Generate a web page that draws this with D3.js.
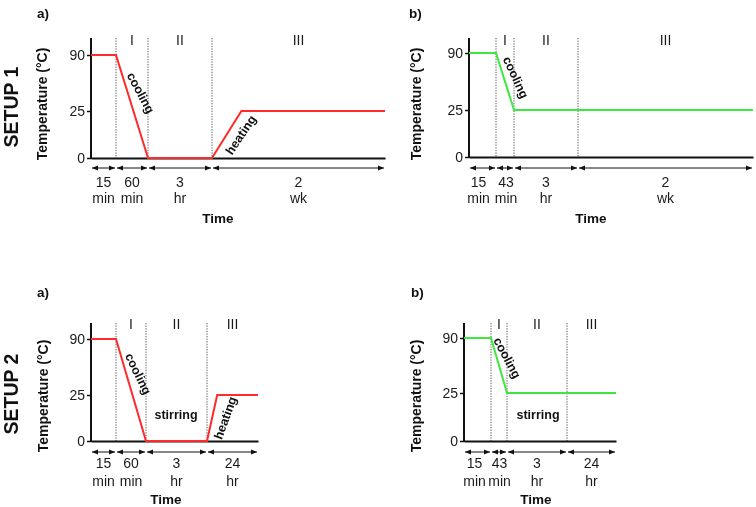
<!DOCTYPE html>
<html>
<head>
<meta charset="utf-8">
<script src="https://cdn.jsdelivr.net/npm/d3@7/dist/d3.min.js"></script>
<style>
  html, body { margin: 0; padding: 0; background: #fff; }
  svg { display: block; font-family: "Liberation Sans", Arial, sans-serif; will-change: transform; }
</style>
</head>
<body>
<svg id="chart" width="756" height="507"></svg>
<script>
// ---------------- data ----------------
const yTicks = [0, 25, 90];
const phaseLabels = ["I", "II", "III"];
const setupLabels = ["SETUP 1", "SETUP 2"];
const panelTags = ["a)", "b)", "a)", "b)"];
const xTitle = "Time";
const yTitle = "Temperature (°C)";

// durations of the four stages (value, unit)
const dur1a = [["15", "min"], ["60", "min"], ["3", "hr"], ["2", "wk"]];
const dur1b = [["15", "min"], ["43", "min"], ["3", "hr"], ["2", "wk"]];
const dur2a = [["15", "min"], ["60", "min"], ["3", "hr"], ["24", "hr"]];
const dur2b = [["15", "min"], ["43", "min"], ["3", "hr"], ["24", "hr"]];

// temperature profiles: [stage position, temperature °C]
const temp1a = [[0, 90], [1, 90], [2, 0], [3, 0], [3.17, 25], [4, 25]];
const temp1b = [[0, 90], [1, 90], [2, 25], [3, 25], [4, 25]];
const temp2a = [[0, 90], [1, 90], [2, 0], [3, 0], [3.2, 25], [4, 25]];
const temp2b = [[0, 90], [1, 90], [2, 25], [3, 25], [4, 25]];

// annotations
const notes1a = ["cooling", "heating"];
const notes1b = ["cooling"];
const notes2a = ["cooling", "stirring", "heating"];
const notes2b = ["cooling", "stirring"];

// ---------------- layout ----------------
const RED = "#ff2b2b", GREEN = "#3ee83e";
const panels = [
  { tag: panelTags[0], tagX: 37, tagY: 18, xr: [91, 116, 148, 212, 385], yr: [158, 111, 55], top: 38,
    temps: temp1a, dur: dur1a, color: RED, phaseY: 45, arrowY: 168, l1: 187, l2: 203, lOff: [0, 0, 0, 0],
    timeX: 218, timeY: 223, ylX: 47, ylY: 104,
    notes: notes1a, notePos: [[140.5, 93, 62], [241, 135, -56]] },
  { tag: panelTags[1], tagX: 409, tagY: 18, xr: [469, 496, 514, 578, 753], yr: [157, 110, 53], top: 38,
    temps: temp1b, dur: dur1b, color: GREEN, phaseY: 45, arrowY: 168, l1: 187, l2: 203, lOff: [-4, 1, 0, 0],
    timeX: 591, timeY: 223, ylX: 421, ylY: 104,
    notes: notes1b, notePos: [[515.5, 77.5, 65]] },
  { tag: panelTags[2], tagX: 37, tagY: 297, xr: [91, 116, 146, 207, 258], yr: [441, 395, 339], top: 323,
    temps: temp2a, dur: dur2a, color: RED, phaseY: 329, arrowY: 452, l1: 468, l2: 486, lOff: [0, 0, 0, 0],
    timeX: 166, timeY: 504, ylX: 48, ylY: 396,
    notes: notes2a, notePos: [[138, 374, 64], [176, 415, 0], [225.5, 418, -70]] },
  { tag: panelTags[3], tagX: 411, tagY: 297, xr: [464, 491, 507, 567, 616], yr: [441, 393, 338], top: 323,
    temps: temp2b, dur: dur2b, color: GREEN, phaseY: 329, arrowY: 452, l1: 468, l2: 486, lOff: [-3, 0.5, 0, 0],
    timeX: 536, timeY: 504, ylX: 421, ylY: 396,
    notes: notes2b, notePos: [[507, 358, 62], [538, 415, 0]] }
];
const setupPos = [[18, 107], [18, 394]];

const svg = d3.select("#chart");

// arrowhead markers
const defs = svg.append("defs");
defs.append("marker").attr("id", "ah").attr("viewBox", "0 0 10 10")
  .attr("refX", 10).attr("refY", 5).attr("markerWidth", 6).attr("markerHeight", 6)
  .attr("markerUnits", "userSpaceOnUse").attr("orient", "auto-start-reverse")
  .append("path").attr("d", "M0,1 L10,5 L0,9 Z").attr("fill", "#111");

// setup labels
svg.selectAll("text.setup").data(setupLabels).join("text")
  .attr("class", "setup")
  .attr("transform", (d, i) => `translate(${setupPos[i][0]},${setupPos[i][1]}) rotate(-90)`)
  .attr("text-anchor", "middle").attr("font-size", 19.5).attr("font-weight", "bold")
  .attr("fill", "#111").text(d => d);

panels.forEach(p => {
  const g = svg.append("g");
  const x = d3.scaleLinear().domain([0, 1, 2, 3, 4]).range(p.xr);
  const y = d3.scaleLinear().domain([0, 25, 90]).range(p.yr);

  // tag
  g.append("text").attr("x", p.tagX).attr("y", p.tagY)
    .attr("font-size", 13.5).attr("font-weight", "bold").attr("fill", "#111").text(p.tag);

  // dotted stage separators
  g.selectAll("line.sep").data([1, 2, 3]).join("line")
    .attr("x1", d => x(d)).attr("x2", d => x(d))
    .attr("y1", p.top).attr("y2", y(0))
    .attr("stroke", "#5a5a5a").attr("stroke-width", 1).attr("stroke-dasharray", "1.3,1.3");

  // phase labels
  g.selectAll("text.phase").data(phaseLabels).join("text")
    .attr("x", (d, i) => (x(i + 1) + x(i + 2)) / 2).attr("y", p.phaseY)
    .attr("text-anchor", "middle").attr("font-size", 14).attr("fill", "#1a1a1a").text(d => d);

  // y axis
  const ya = g.append("g").attr("transform", `translate(${x(0)},0)`)
    .call(d3.axisLeft(y).tickValues(yTicks).tickSize(4).tickPadding(2).tickFormat(d3.format("d")));
  ya.select(".domain").remove();
  ya.selectAll(".tick line").attr("stroke", "#111").attr("stroke-width", 1.5);
  ya.selectAll(".tick text").attr("font-size", 14).attr("fill", "#1a1a1a")
    .attr("font-family", "Liberation Sans, Arial, sans-serif");
  g.append("line").attr("x1", x(0)).attr("x2", x(0)).attr("y1", p.top).attr("y2", y(0) + 1)
    .attr("stroke", "#111").attr("stroke-width", 2);

  // x axis
  const xa = g.append("g").attr("transform", `translate(0,${y(0)})`)
    .call(d3.axisBottom(x).tickValues([]).tickSizeOuter(0));
  xa.select(".domain").attr("stroke", "#111").attr("stroke-width", 2);

  // temperature profile
  g.append("path").datum(p.temps)
    .attr("d", d3.line().x(d => x(d[0])).y(d => y(d[1])))
    .attr("fill", "none").attr("stroke", p.color).attr("stroke-width", 2)
    .attr("stroke-linejoin", "miter");

  // duration arrows
  g.selectAll("line.arr").data([0, 1, 2, 3]).join("line")
    .attr("x1", d => x(d) + 1).attr("x2", d => x(d + 1) - 1)
    .attr("y1", p.arrowY).attr("y2", p.arrowY)
    .attr("stroke", "#111").attr("stroke-width", 1)
    .attr("marker-start", "url(#ah)").attr("marker-end", "url(#ah)");

  // duration labels
  const dl = g.selectAll("g.dl").data(p.dur).join("g");
  const cx = (i) => (x(i) + x(i + 1)) / 2 + p.lOff[i];
  dl.append("text").attr("x", (d, i) => cx(i)).attr("y", p.l1)
    .attr("text-anchor", "middle").attr("font-size", 14).attr("fill", "#1a1a1a").text(d => d[0]);
  dl.append("text").attr("x", (d, i) => cx(i)).attr("y", p.l2)
    .attr("text-anchor", "middle").attr("font-size", 14).attr("fill", "#1a1a1a").text(d => d[1]);

  // axis titles
  g.append("text").attr("x", p.timeX).attr("y", p.timeY).attr("text-anchor", "middle")
    .attr("font-size", 13.5).attr("font-weight", "bold").attr("fill", "#111").text(xTitle);
  g.append("text").attr("transform", `translate(${p.ylX},${p.ylY}) rotate(-90)`)
    .attr("text-anchor", "middle").attr("font-size", 14).attr("font-weight", "bold")
    .attr("fill", "#111").text(yTitle);

  // annotations
  g.selectAll("text.note").data(p.notes).join("text")
    .attr("transform", (d, i) => `translate(${p.notePos[i][0]},${p.notePos[i][1]}) rotate(${p.notePos[i][2]})`)
    .attr("text-anchor", "middle").attr("dominant-baseline", "central")
    .attr("font-size", 12.5).attr("font-weight", "bold").attr("fill", "#111").text(d => d);
});
</script>
</body>
</html>
